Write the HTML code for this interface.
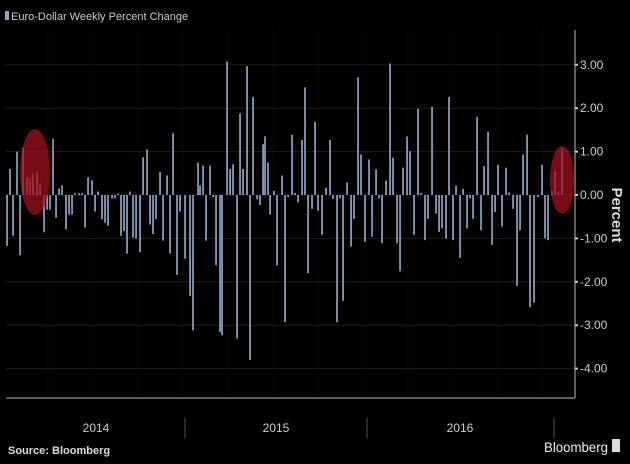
<!DOCTYPE html>
<html><head><meta charset="utf-8"><style>
html,body{margin:0;padding:0;background:#000;}
svg{display:block;font-family:"Liberation Sans Narrow","Liberation Sans",sans-serif;}
</style></head><body>
<svg id="c" width="630" height="464" viewBox="0 0 630 464" xmlns="http://www.w3.org/2000/svg">
<rect width="630" height="464" fill="#000"/>
<g id="grid" stroke="#1e1e1e" stroke-width="1"></g>
<g id="bars" fill="#8ea4c4"></g>
<ellipse cx="35" cy="172" rx="15" ry="43" fill="#a0101c" fill-opacity="0.75"/>
<ellipse cx="562" cy="180" rx="12" ry="34" fill="#a0101c" fill-opacity="0.75"/>
<line x1="575" y1="30" x2="575" y2="398" stroke="#bbb" stroke-width="1"/>
<line x1="6" y1="398" x2="575" y2="398" stroke="#bbb" stroke-width="1"/>
<g id="ticks" fill="#ccc" font-size="12"></g>
<text transform="translate(612,215) rotate(90)" text-anchor="middle" fill="#ddd" font-size="15" font-weight="bold">Percent</text>
<rect x="5" y="11" width="4" height="9" fill="#8ea4c4"/>
<text x="11" y="20" fill="#ccc" font-size="11">Euro-Dollar Weekly Percent Change</text>
<g stroke="#555" stroke-width="1">
<line x1="185" y1="418" x2="185" y2="438"/><line x1="367" y1="418" x2="367" y2="438"/><line x1="554" y1="418" x2="554" y2="438"/>
</g>
<g fill="#ccc" font-size="12" text-anchor="middle">
<text x="96" y="432">2014</text><text x="276" y="432">2015</text><text x="460" y="432">2016</text>
</g>
<text x="8" y="454" fill="#ddd" font-size="11" font-weight="bold">Source: Bloomberg</text>
<text x="544" y="452" fill="#eee" font-size="14" textLength="64" lengthAdjust="spacingAndGlyphs">Bloomberg</text>
<rect x="612" y="439" width="8" height="13" fill="#ddd"/>
</svg>
<script>
var Z=195,S=43.4,ns="http://www.w3.org/2000/svg";
var d=[[7,-1.17],[10,.6],[13,-.94],[17,1],[20,-1.39],[23,1.09],[27,.41],[30,.38],[33,.49],[37,.53],[40,.26],[44,-.86],[47,-.34],[50,-.34],[53,1.3],[56,-.53],[59,.15],[62,.22],[66,-.79],[69,-.45],[72,-.45],[75,.04],[79,.04],[82,.04],[85,-.75],[88,.41],[92,.34],[95,-.38],[98,.08],[102,-.56],[105,-.64],[108,-.71],[112,-.08],[115,-.08],[118,.03],[121,-.94],[124,-.83],[127,-1.35],[130,.08],[133,-.98],[136,-1],[140,-1.32],[143,.87],[147,1.05],[150,-.68],[153,-.9],[156,-.56],[160,.53],[163,-1.05],[167,.45],[170,-1.35],[173,1.43],[177,-1.84],[180,-.38],[185,-1.47],[190,-2.33],[193,-3.12],[198,.75],[200,.22],[203,.68],[206,-1.05],[210,.68],[213,-.05],[216,-1.62],[220,-3.16],[222,-3.23],[227,3.08],[230,.6],[233,.71],[237,-3.31],[240,1.88],[243,.6],[247,2.97],[250,-3.8],[253,2.26],[257,-.1],[260,-.23],[263,1.17],[265,1.35],[268,.75],[270,-.45],[274,.1],[277,-1.62],[282,.45],[285,-2.93],[288,-.05],[292,1.39],[295,.05],[298,-.17],[302,1.27],[305,2.48],[308,-1.8],[312,-.32],[315,1.69],[318,-.36],[322,-.92],[326,.17],[330,1.27],[333,-.09],[337,-2.93],[340,-.08],[343,-2.44],[347,.29],[351,-1.19],[354,-.55],[358,2.71],[361,.93],[365,-1.08],[369,.82],[372,-.96],[376,.59],[379,-.08],[382,-1.11],[386,.33],[390,3.03],[393,.86],[397,-1.11],[400,-1.76],[403,.63],[407,1.35],[410,1.01],[414,-.92],[418,1.99],[421,.05],[425,-1.04],[428,-.55],[432,2.03],[436,-.43],[439,-.85],[442,-.77],[446,-1],[449,2.26],[453,-1.04],[456,.21],[460,-1.45],[463,.14],[467,-.77],[470,-.08],[473,-.55],[477,1.8],[481,-.81],[484,.67],[488,1.46],[492,-1.15],[495,-.39],[498,.7],[502,-.73],[506,.63],[509,.06],[513,-.32],[517,-2.1],[520,-.81],[523,.93],[527,1.39],[530,-2.59],[534,-2.48],[538,-.05],[542,.7],[545,-1],[548,-1.04],[552,.1],[555,.55],[558,.06],[562,1.08]];
var g=document.getElementById('bars');
d.forEach(function(b){var r=document.createElementNS(ns,'rect');var h=Math.abs(b[1])*S;r.setAttribute('x',b[0]-0.8);r.setAttribute('width',1.7);r.setAttribute('y',b[1]>0?Z-h:Z);r.setAttribute('height',Math.max(h,0.6));g.appendChild(r);});
var gr=document.getElementById('grid'),tk=document.getElementById('ticks');
for(var v=3;v>=-4;v--){var y=Z-v*S;var l=document.createElementNS(ns,'line');l.setAttribute('x1',6);l.setAttribute('x2',575);l.setAttribute('y1',y);l.setAttribute('y2',y);gr.appendChild(l);
var t=document.createElementNS(ns,'text');t.setAttribute('x',580);t.setAttribute('y',y+4);t.textContent=(v<0?'-':'')+Math.abs(v).toFixed(2);tk.appendChild(t);
var m=document.createElementNS(ns,'rect');m.setAttribute('x',575);m.setAttribute('y',y-1);m.setAttribute('width',3);m.setAttribute('height',2);tk.appendChild(m);}
for(var x=48;x<575;x+=45){var l=document.createElementNS(ns,'line');l.setAttribute('x1',x);l.setAttribute('x2',x);l.setAttribute('y1',30);l.setAttribute('y2',398);l.setAttribute('stroke-dasharray','1 3');gr.appendChild(l);}
</script>
</body></html>
